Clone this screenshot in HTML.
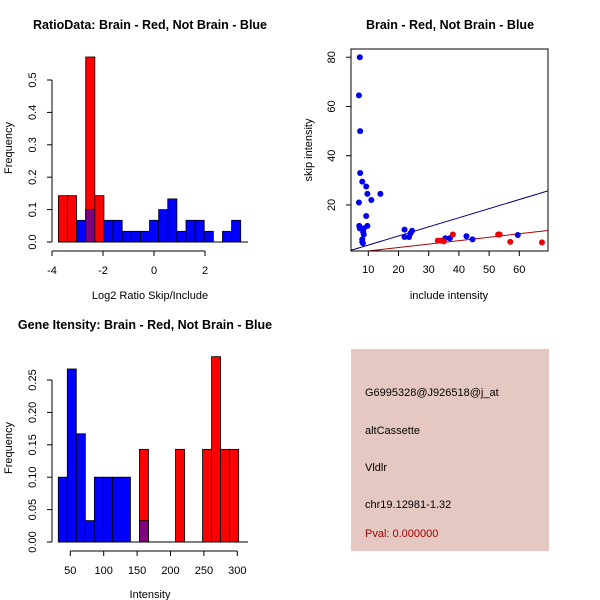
<!DOCTYPE html>
<html><head><meta charset="utf-8"><style>
html,body{margin:0;padding:0;background:#fff;}
svg{display:block;font-family:"Liberation Sans",Arial,sans-serif;}
</style></head><body>
<svg id="s" width="600" height="600" xmlns="http://www.w3.org/2000/svg">
<rect width="600" height="600" fill="#fff"/>
<text x="150" y="29" text-anchor="middle" font-size="12.5" font-weight="bold">RatioData: Brain - Red, Not Brain - Blue</text>
<text x="450" y="29" text-anchor="middle" font-size="12.5" font-weight="bold">Brain - Red, Not Brain - Blue</text>
<text x="145" y="329" text-anchor="middle" font-size="12.5" font-weight="bold">Gene Itensity: Brain - Red, Not Brain - Blue</text>
<text x="150" y="299" text-anchor="middle" font-size="11">Log2 Ratio Skip/Include</text>
<text transform="translate(12,148) rotate(-90)" text-anchor="middle" font-size="11">Frequency</text>
<text x="449" y="299" text-anchor="middle" font-size="11">include intensity</text>
<text transform="translate(312,150) rotate(-90)" text-anchor="middle" font-size="11">skip intensity</text>
<text x="150" y="598" text-anchor="middle" font-size="11">Intensity</text>
<text transform="translate(12,448) rotate(-90)" text-anchor="middle" font-size="11">Frequency</text>
<g>
<rect x="351" y="349" width="198" height="202" fill="#e6c8c2"/>
<text x="365" y="396" font-size="11">G6995328@J926518@j_at</text>
<text x="365" y="434" font-size="11">altCassette</text>
<text x="365" y="471" font-size="11">Vldlr</text>
<text x="365" y="508" font-size="11">chr19.12981-1.32</text>
<text x="365" y="537" font-size="11" fill="#a00000">Pval: 0.000000</text>
</g>
</svg>
<script>
// Ratio histogram data
const ratioStart = -3.75;
const ratioBinWidth = 0.3575;
const ratioRed = [0.143,0.143,0,0.571,0.143,0,0,0,0,0,0,0,0,0,0,0,0,0,0,0];
const ratioBlue = [0,0,0.067,0.1,0,0.067,0.067,0.033,0.033,0.033,0.067,0.1,0.133,0.033,0.067,0.067,0.033,0,0.033,0.067];
const ratioXTicks = [-4,-2,0,2];
const ratioYTicks = [0,0.1,0.2,0.3,0.4,0.5];
// Intensity histogram data
const intStart = 32;
const intBinWidth = 13.5;
const intRed = [0,0,0,0,0,0,0,0,0,0.143,0,0,0,0.143,0,0,0.143,0.286,0.143,0.143];
const intBlue = [0.1,0.267,0.167,0.033,0.1,0.1,0.1,0.1,0,0.033,0,0,0,0,0,0,0,0,0,0];
const intXTicks = [50,100,150,200,250,300];
const intYTicks = [0,0.05,0.1,0.15,0.2,0.25];
// Scatter data
const blueX = [7.2,6.9,7.3,7.3,8,9.3,9.7,14,11,6.9,9.3,7,7.2,8.5,9.7,8.3,8.5,8,8,8.2,22,22,23.5,24,24.5,35.5,37,42.5,44.5,59.5];
const blueY = [80,64.5,50,33,29.5,27.5,24.5,24.5,22,21,15.5,11.5,10.5,10.5,11.5,9,8,6,5,4.5,10,7,7,8.5,9.5,6.5,6.5,7.3,6,7.8];
const redX = [33,34,35,38,53,53.5,57,67.5];
const redY = [5.5,5.5,5.2,8,8,8,5,4.8];
const blueLine = [0.37,0];
const redLine = [0.14,-0.1];
const scXTicks = [10,20,30,40,50,60];
const scYTicks = [20,40,60,80];

const svg = document.getElementById('s');
const NS = 'http://www.w3.org/2000/svg';
function mk(tag, at, parent){const e=document.createElementNS(NS,tag);for(const k in at)e.setAttribute(k,at[k]);(parent||svg).appendChild(e);return e;}
function txt(x,y,s,rot,parent){const t=mk('text',{x:x,y:y,'font-size':11,'text-anchor':'middle'},parent);if(rot)t.setAttribute('transform','rotate(-90 '+x+' '+y+')');t.textContent=s;return t;}

function hist(name,start,bw,red,blue,xs,ys,xt,yt,fmt,baseL,baseR){
  const g=mk('g',{});
  
  
  for(let i=0;i<red.length;i++){
    const x0=xs(start+i*bw), x1=xs(start+(i+1)*bw);
    const b=blue[i], r=red[i], m=Math.min(b,r);
    if(b>0){const e=mk('rect',{x:x0,y:ys(b),width:x1-x0,height:ys(0)-ys(b),fill:'#0000ff',stroke:'#000','stroke-width':0.8},g);
      
      }
    if(r>0){const e=mk('rect',{x:x0,y:ys(r),width:x1-x0,height:ys(0)-ys(r),fill:'#ff0000',stroke:'#000','stroke-width':0.8},g);
      
      }
    if(m>0){const e=mk('rect',{x:x0,y:ys(m),width:x1-x0,height:ys(0)-ys(m),fill:'#800080',stroke:'#000','stroke-width':0.8},g);
      
      }
  }
  mk('line',{x1:baseL,x2:baseR,y1:ys(0),y2:ys(0),stroke:'#000'},g);
  const ax=mk('g',{stroke:'#000'},g);
  
  
  const yb=ys(0)+9;
  mk('line',{x1:xs(xt[0]),x2:xs(xt[xt.length-1]),y1:yb,y2:yb},ax);
  xt.forEach(v=>{mk('line',{x1:xs(v),x2:xs(v),y1:yb,y2:yb+5},ax);const t=txt(xs(v),yb+23,String(v),false,g);});
  const ay=mk('g',{stroke:'#000'},g);
  
  
  const xa=52;
  mk('line',{x1:xa,x2:xa,y1:ys(yt[0]),y2:ys(yt[yt.length-1])},ay);
  yt.forEach(v=>{mk('line',{x1:xa-5,x2:xa,y1:ys(v),y2:ys(v)},ay);const t=txt(xa-16,ys(v),fmt(v),true,g);});
}
hist('ratio-histogram',ratioStart,ratioBinWidth,ratioRed,ratioBlue,
  v=>52+(v+4)*25.5, v=>242-v*324, ratioXTicks, ratioYTicks, v=>v.toFixed(1), 58, 248);
hist('intensity-histogram',intStart,intBinWidth,intRed,intBlue,
  v=>70.3+(v-50)*0.668, v=>542-v*648, intXTicks, intYTicks, v=>v.toFixed(2), 58, 248);

// scatter
const sx=v=>338.1+v*3.02, sy=v=>254.2-v*2.462;
const sg=mk('g',{});


const clip=mk('clipPath',{id:'cp'},sg);mk('rect',{x:351,y:49,width:197,height:202},clip);
function line(c,col,name){const x0=4.3,x1=69.5;const l=mk('line',{x1:sx(x0),y1:sy(c[0]*x0+c[1]),x2:sx(x1),y2:sy(c[0]*x1+c[1]),stroke:col,'clip-path':'url(#cp)'},sg);
  
  }
line(blueLine,'#000080','blue-fit-line');
line(redLine,'#b00000','red-fit-line');
blueX.forEach((v,i)=>{const c=mk('circle',{cx:sx(v),cy:sy(blueY[i]),r:3,fill:'#0000ee'},sg);
  
  });
redX.forEach((v,i)=>{const c=mk('circle',{cx:sx(v),cy:sy(redY[i]),r:3,fill:'#ee0000'},sg);
  
  });
const box=mk('rect',{x:351,y:49,width:197,height:202,fill:'none',stroke:'#000'},sg);


scXTicks.forEach(v=>{mk('line',{x1:sx(v),x2:sx(v),y1:251,y2:256,stroke:'#000'},sg);const t=txt(sx(v),273,String(v),false,sg);});
scYTicks.forEach(v=>{mk('line',{x1:346,x2:351,y1:sy(v),y2:sy(v),stroke:'#000'},sg);const t=txt(335,sy(v),String(v),true,sg);});
</script>
</body></html>
